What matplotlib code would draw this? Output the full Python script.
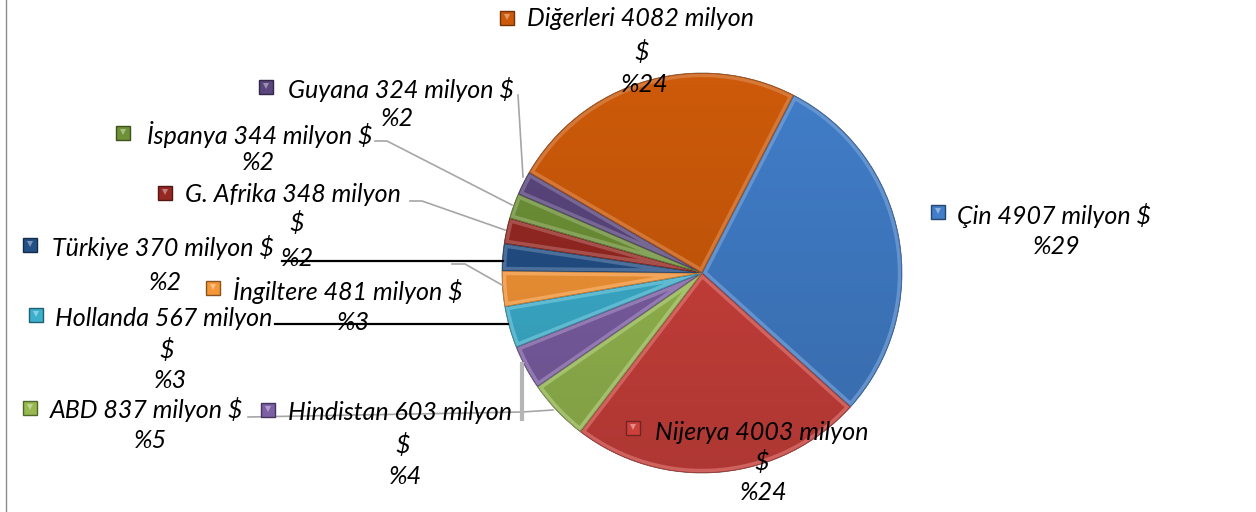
import numpy as np
import matplotlib
matplotlib.use("Agg")
import matplotlib.pyplot as plt
from matplotlib.colors import to_rgb
from matplotlib.patches import PathPatch, Circle

# --- veriler (saat yonunde, Cin'den baslayarak) ---
ulkeler = ["Çin", "Nijerya", "ABD", "Hindistan", "Hollanda", "İngiltere",
           "Türkiye", "G. Afrika", "İspanya", "Guyana", "Diğerleri"]
degerler = [4907, 4003, 837, 603, 567, 481, 370, 348, 344, 324, 4082]
renkler = ["#417dc8", "#cd413c", "#96b950", "#7d5fa5", "#3cafcd", "#f59637",
           "#235087", "#962823", "#6e9137", "#5a467d", "#cd5a0a"]

# --- etiket yerlesimi (piksel, y asagi) ---
# isaret (x, y), ilk satir sol x, ilk satir y, alt satirlarin orta x'i ve y'leri
isaret_xy = [(938, 212), (633, 428), (30, 408), (268, 410), (36, 315), (213, 288),
             (30, 245), (165, 193), (123, 133), (266, 87), (507, 18)]
satir1_xy = [(957, 215), (655, 432), (50, 410), (288, 412), (55, 318), (233, 291),
             (52, 248), (185, 195), (147, 135), (288, 90), (527, 18)]
dolar_ayri = [False, True, False, True, True, False, False, True, False, False, True]
alt_xy = [[(1057, 246)], [(762, 462), (764, 493)], [(150, 440)],
          [(403, 445), (405, 477)], [(167, 350), (170, 380)], [(353, 323)],
          [(165, 282)], [(297, 223), (297, 258)], [(258, 163)], [(397, 119)],
          [(642, 52), (645, 85)]]

W, H = 1256, 512
Y = lambda y: H - y
CX, CY, R = 702, Y(273), 200

fig = plt.figure(figsize=(W / 100, H / 100), dpi=100)
ax = fig.add_axes([0, 0, 1, 1])

toplam = sum(degerler)
yuzde = [round(v / toplam * 100) for v in degerler]

wedges, _ = ax.pie(degerler, colors=renkler, startangle=62.7, counterclock=False,
                   center=(CX, CY), radius=R,
                   wedgeprops=dict(edgecolor="#5f5f5f", linewidth=0.5))

# hafif dikey golgelendirme (alt kisim daha koyu)
grad = np.zeros((100, 2, 4))
grad[..., 3] = np.linspace(0.0, 0.15, 100)[:, None]
im = ax.imshow(grad, extent=(CX - R, CX + R, CY - R, CY + R), origin="upper",
               interpolation="bilinear", zorder=1.5)
im.set_clip_path(Circle((CX, CY), R, transform=ax.transData))

# kabartma (bevel) etkisi: dilim kenarinda acik renkli serit
for w, c in zip(wedges, renkler):
    r, g, b = to_rgb(c)
    acik = (r + (1 - r) * 0.25, g + (1 - g) * 0.25, b + (1 - b) * 0.25)
    koyu = (r * 0.75, g * 0.75, b * 0.75)
    rim = PathPatch(w.get_path(), transform=w.get_transform(), fill=False,
                    edgecolor=acik, lw=6, alpha=0.75, zorder=2)
    rim.set_clip_path(w)
    ax.add_patch(rim)
    ic = PathPatch(w.get_path(), transform=w.get_transform(), fill=False,
                   edgecolor=koyu, lw=1.0, zorder=2)
    ic.set_clip_path(w)
    ax.add_patch(ic)

ax.set_xlim(0, W)
ax.set_ylim(0, H)
ax.set_aspect("equal")
ax.axis("off")

# --- etiketler ---
fs = 18
aile = ["Lato", "DejaVu Sans"]
for i, ad in enumerate(ulkeler):
    c = renkler[i]
    r, g, b = to_rgb(c)
    mx, my = isaret_xy[i]
    ax.plot(mx, Y(my), marker="s", ms=10, color=c,
            mec=(r * 0.55, g * 0.55, b * 0.55), mew=1.0, zorder=5)
    ax.plot(mx, Y(my) + 1.5, marker="v", ms=5,
            color=(r + (1 - r) * 0.4, g + (1 - g) * 0.4, b + (1 - b) * 0.4),
            mew=0, zorder=6)
    ilk = f"{ad} {degerler[i]} milyon" + ("" if dolar_ayri[i] else " $")
    tx, ty = satir1_xy[i]
    ax.text(tx, Y(ty), ilk, ha="left", va="center", fontsize=fs,
            style="italic", family=aile, color="black", zorder=7)
    altlar = (["$"] if dolar_ayri[i] else []) + [f"%{yuzde[i]}"]
    for s, (cx, cy) in zip(altlar, alt_xy[i]):
        ax.text(cx, Y(cy), s, ha="center", va="center", fontsize=fs,
                style="italic", family=aile, color="black", zorder=7)

# --- kilavuz cizgileri ---
gri = "#a6a6a6"
ax.plot([518, 523], [Y(95), Y(177)], color=gri, lw=1.2)                      # Guyana
ax.plot([375, 387, 512], [Y(141), Y(141), Y(205)], color=gri, lw=1.2)        # Ispanya
ax.plot([410, 422, 505], [Y(201), Y(201), Y(230)], color=gri, lw=1.2)        # G. Afrika
ax.plot([452, 465, 502], [Y(264), Y(264), Y(285)], color=gri, lw=1.2)        # Ingiltere
ax.plot([248, 522, 553], [Y(417), Y(412), Y(410)], color=gri, lw=1.2)        # ABD / Hindistan
ax.plot([522, 522], [Y(364), Y(419)], color="#b5b5b5", lw=3)
ax.plot([282, 503], [Y(261), Y(261)], color="black", lw=1.6)                 # Turkiye
ax.plot([275, 508], [Y(324), Y(324)], color="black", lw=1.6)                 # Hollanda

# sol cerceve
ax.plot([6, 6], [0, H], color="#8c8c8c", lw=1)

fig.savefig("out.png", dpi=100)
